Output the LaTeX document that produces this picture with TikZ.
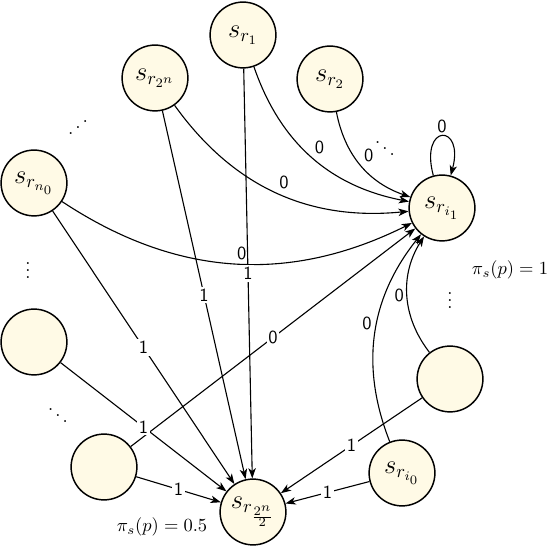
\documentclass[tikz,border=0pt]{standalone}
\usepackage{xcolor}
\definecolor{statefill}{RGB}{255,250,230}
\usepackage{graphicx}
\usepackage{tikz}
\usetikzlibrary{
    arrows.meta
}
\usepackage{amsmath, amssymb}
\tikzset{
    stnode/.style={circle, draw, line width=0.8pt, fill=statefill, minimum size=1.25cm, inner sep=0pt, font=\Large},
    trans/.style={line width=0.6pt, -{Stealth[length=5.5pt, width=4pt, inset=1.5pt]}},
    lab/.style={font=\sffamily, fill=white, inner sep=1pt},
    clab/.style={font=\sffamily, auto, inner sep=1.5pt}
}

\begin{document}
\begin{tikzpicture}[x=0.019cm, y=0.019cm]
        \useasboundingbox (0,0) rectangle (546,548);
        \node[stnode] (r1) at (243,513) {$s_{r_1}$};
        \node[stnode] (r2) at (330,469) {$s_{r_2}$};
        \node[stnode] (r2n) at (155,470) {$s_{r_{2^n}}$};
        \node[stnode] (rn0) at (34,365) {$s_{r_{n_0}}$};
        \node[stnode] (bl) at (34,206) {};
        \node[stnode] (bb) at (104,81) {};
        \node[stnode] (half) at (253,36) {$s_{r_{\frac{2^n}{2}}}$};
        \node[stnode] (ri1) at (442,340) {$s_{r_{i_1}}$};
        \node[stnode] (br) at (450,169) {};
        \node[stnode] (ri0) at (402,75) {$s_{r_{i_0}}$};
        \node (pione) at (510,278) {$\pi_s(p) = 1$};
        \node (pihalf) at (162,21) {$\pi_s(p) = 0.5$};
        \node[inner sep=0pt] (dots1) at (78,426) {\reflectbox{$\ddots$}};
        \node[inner sep=0pt] (dots2) at (385,405) {$\ddots$};
        \node[inner sep=0pt] (dots3) at (28,283) {$\vdots$};
        \node[inner sep=0pt] (dots4) at (450,253) {$\vdots$};
        \node[inner sep=0pt] (dots5) at (58,138) {$\ddots$};
        \draw[trans] (r1) to[bend right=30] node[clab] {0} (ri1);
        \draw[trans] (r2) to[bend right=30] node[clab] {0} (ri1);
        \draw[trans] (r2n) to[bend right=30] node[clab] {0} (ri1);
        \draw[trans] (rn0) to[bend right=30] node[clab] {0} (ri1);
        \draw[trans] (br) to[bend left=35] node[clab] {0} (ri1);
        \draw[trans] (ri0) to[bend left=30] node[clab] {0} (ri1);
        \draw[trans] (ri1) to[loop above] node[clab] {0} (ri1);
        \draw[trans] (bb) -- node[lab] {0} (ri1);
        \draw[trans] (r1) -- node[lab] {1} (half);
        \draw[trans] (r2n) -- node[lab] {1} (half);
        \draw[trans] (rn0) -- node[lab] {1} (half);
        \draw[trans] (bl) -- node[lab] {1} (half);
        \draw[trans] (bb) -- node[lab] {1} (half);
        \draw[trans] (br) -- node[lab] {1} (half);
        \draw[trans] (ri0) -- node[lab] {1} (half);
    \end{tikzpicture}
\end{document}
